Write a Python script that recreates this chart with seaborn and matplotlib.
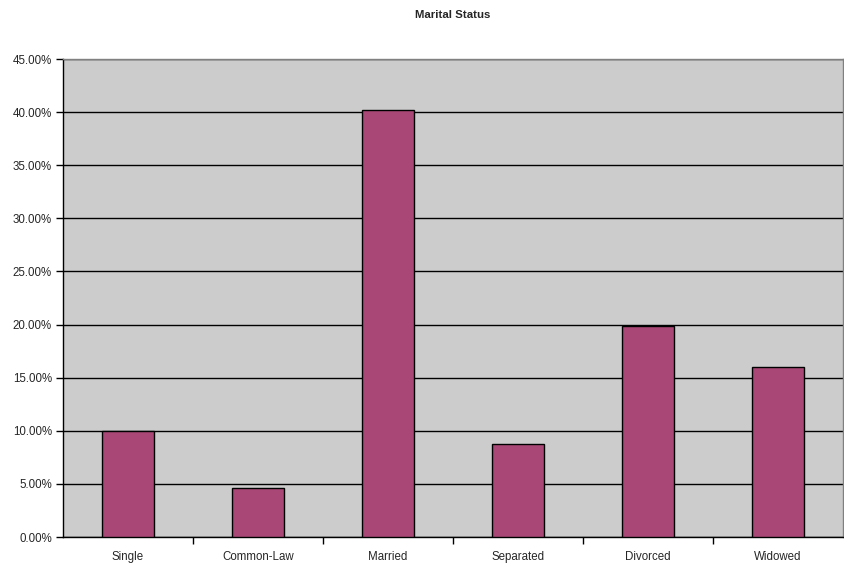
import matplotlib
matplotlib.use("Agg")
import matplotlib.pyplot as plt
from matplotlib.ticker import FuncFormatter, FixedLocator
import seaborn as sns
import pandas as pd

categories = ["Single", "Common-Law", "Married", "Separated", "Divorced", "Widowed"]
shares = [10.0, 4.66, 40.2, 8.8, 19.9, 16.0]
title = "Marital Status"

sns.set_style("white")
plt.rcParams["font.family"] = ["Liberation Sans", "DejaVu Sans"]

df = pd.DataFrame({"status": categories, "share": shares})

fig = plt.figure(figsize=(8.44, 5.64), dpi=100)
ax = fig.add_axes([63 / 844, 27 / 564, 780 / 844, 478 / 564])
ax.set_facecolor("#CCCCCC")

sns.barplot(data=df, x="status", y="share", color="#A94876", width=0.4,
            edgecolor="black", linewidth=1.0, saturation=1, ax=ax, zorder=3)

ax.set_ylim(0, 45)
ax.set_xlim(-0.5, len(categories) - 0.5)
ax.set_yticks(range(0, 46, 5))
ax.yaxis.set_major_formatter(FuncFormatter(lambda v, _: f"{v:.2f}%"))
ax.yaxis.grid(True, color="black", linewidth=1.0, zorder=1)
ax.set_axisbelow(True)

# category separators as ticks on the x axis
ax.xaxis.set_major_locator(FixedLocator([i + 0.5 for i in range(len(categories) - 1)]))
ax.xaxis.set_minor_locator(FixedLocator(range(len(categories))))
ax.set_xticklabels([])
ax.set_xticklabels(categories, minor=True)
ax.tick_params(axis="x", which="major", direction="out", length=5, width=1, color="black", bottom=True)
ax.tick_params(axis="x", which="minor", length=0, pad=10, labelsize=8.3)
ax.tick_params(axis="y", direction="out", length=5, width=1, color="black", left=True, labelsize=8.3, pad=3)

ax.set_xlabel("")
ax.set_ylabel("")

for side in ["left", "bottom"]:
    ax.spines[side].set_color("black")
    ax.spines[side].set_linewidth(1.0)
for side in ["top", "right"]:
    ax.spines[side].set_color("#808080")
    ax.spines[side].set_linewidth(1.0)

fig.text(453 / 844, 1 - 15 / 564, title, ha="center", va="center",
         fontsize=8.2, fontweight="bold")

fig.savefig("out.png", dpi=100, facecolor="white")
